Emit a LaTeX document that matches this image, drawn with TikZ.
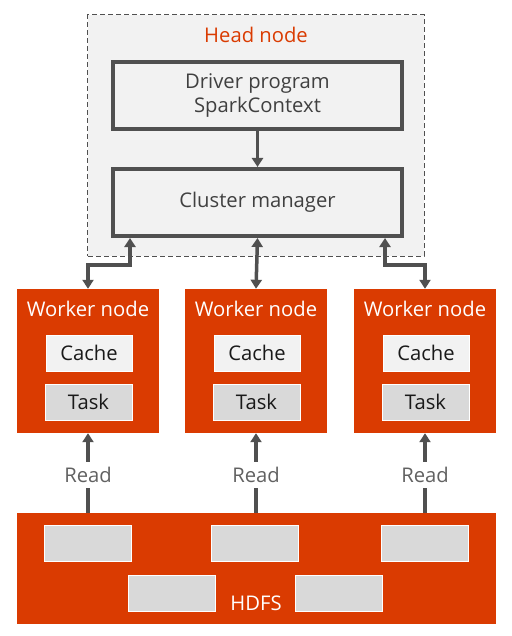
\documentclass[tikz,border=0pt]{standalone}
\usepackage{fontspec}
\setmainfont{Open Sans}
\usetikzlibrary{arrows.meta}
\definecolor{orng}{HTML}{DA3B01}
\definecolor{lgray}{HTML}{F2F2F2}
\definecolor{mgray}{HTML}{D9D9D9}
\definecolor{dgray}{HTML}{505050}
\definecolor{txt}{HTML}{404040}
\tikzset{
  fnt/.style={font=\fontsize{20.3}{24}\selectfont},
  headbox/.style={draw=dgray,line width=4bp,fill=lgray,minimum width=289bp,minimum height=67bp,inner sep=0pt,text=txt,fnt,align=center},
  worker/.style={fill=orng,minimum width=142bp,minimum height=144bp,inner sep=0pt},
  wlabel/.style={text=white,fnt},
  cachebox/.style={fill=lgray,draw=white,line width=0.5bp,minimum width=86bp,minimum height=36bp,inner sep=0pt,fnt,text=black!90},
  taskbox/.style={fill=mgray,draw=white,line width=0.5bp,minimum width=87bp,minimum height=36bp,inner sep=0pt,fnt,text=black!90},
  blk/.style={fill=mgray,draw=white,line width=0.5bp,minimum width=87bp,minimum height=36bp,inner sep=0pt},
  arr/.style={draw=dgray,line width=3.5bp,-{Triangle[width=11bp,length=9bp]}},
  dbl/.style={draw=dgray,line width=3.5bp,{Triangle[width=11bp,length=9bp]}-{Triangle[width=11bp,length=9bp]}},
  readlbl/.style={fill=white,inner sep=0pt,minimum height=26bp,text=dgray!90,fnt}
}
\begin{document}
\begin{tikzpicture}[x=1bp,y=-1bp]
\useasboundingbox (0,0) rectangle (512,636);
% head node
\node[draw=dgray,dashed,dash pattern=on 5bp off 3bp,line width=1bp,fill=lgray,minimum width=336bp,minimum height=241bp,inner sep=0pt] (head) at (256,135.5) {};
\node[text=orng,fnt] (headlbl) at (256,35) {Head node};
\node[headbox] (drv) at (257.5,95.5) {Driver program\\SparkContext};
\node[headbox] (cm) at (257.5,202.5) {Cluster manager};
\draw[arr] (drv.south) -- (cm.north);
% workers
\foreach \i/\x in {1/88,2/256,3/425}{
  \node[worker] (w\i) at (\x,361) {};
  \node[wlabel] (wl\i) at (\x,309) {Worker node};
  \node[cachebox] (c\i) at (\x+1,353) {Cache};
  \node[taskbox] (t\i) at (\x+0.5,402) {Task};
}
% HDFS
\node[fill=orng,minimum width=479bp,minimum height=111bp,inner sep=0pt] (hdfs) at (256.5,568.5) {};
\node[blk] (b1) at (87.5,543) {};
\node[blk] (b2) at (255,543) {};
\node[blk] (b3) at (424.5,543) {};
\node[blk] (b4) at (171.5,593) {};
\node[blk] (b5) at (339,593) {};
\node[text=white,fnt] (hdfslbl) at (256,603) {HDFS};
% read arrows
\foreach \i in {1,2,3}{
  \draw[arr] (hdfs.north -| w\i) -- node[readlbl,pos=0.475] (r\i) {Read} (w\i.south);
}
% cluster manager to workers
\draw[dbl] ([xshift=19bp]cm.south west) -- ++(0,27) -| (w1.north);
\draw[dbl] (cm.south) -- (w2.north);
\draw[dbl] ([xshift=-19bp]cm.south east) -- ++(0,27) -| (w3.north);
\end{tikzpicture}
\end{document}
